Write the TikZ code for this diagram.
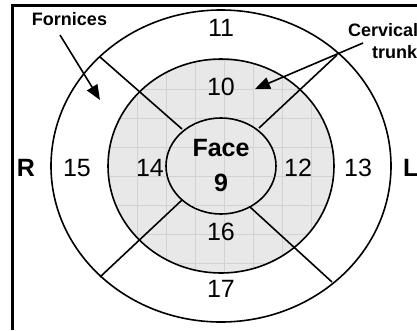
\documentclass[tikz,border=0pt]{standalone}
\usepackage{fontspec}
\setmainfont{Liberation Sans}
\usetikzlibrary{arrows.meta}
\definecolor{ringgray}{HTML}{E8E8E8}
\definecolor{gridgray}{HTML}{D2D2D2}
\begin{document}
\begin{tikzpicture}[x=1pt,y=-1pt,
  ring/.style={line width=1.6pt},
  spoke/.style={line width=1.6pt},
  gridline/.style={gridgray,line width=0.6pt},
  num/.style={inner sep=0pt,font=\fontsize{25}{28}\selectfont},
  bnum/.style={inner sep=0pt,font=\fontsize{25}{28}\selectfont\bfseries},
  callout/.style={inner sep=0pt,anchor=west,font=\fontsize{18}{21}\selectfont\bfseries},
  pointer/.style={line width=1.6pt,-{Triangle[length=15pt,width=12pt]}},
  frame/.style={line width=3pt,line join=miter}]
\useasboundingbox (0,0) rectangle (417,330);
\clip (0,0) rectangle (417,330);
\fill[white] (0,0) rectangle (417,330);
\coordinate (c) at (221,166);
% outer ring
\draw[ring,fill=white] (c) ellipse [x radius=170, y radius=156];
% gray middle ring with faint grid
\begin{scope}
  \clip (c) ellipse [x radius=113, y radius=107];
  \fill[ringgray] (c) ellipse [x radius=113, y radius=107];
  \foreach \yy in {60,89,118,147,176,205,234,263}
    \draw[gridline] (100,\yy) -- (340,\yy);
  \foreach \xx in {108,137,166,195,224,253,282,311}
    \draw[gridline] (\xx,50) -- (\xx,280);
\end{scope}
\draw[ring] (c) ellipse [x radius=113, y radius=107];
% spokes
\coordinate (ulI) at (182,129); \coordinate (ulO) at (100,57);
\coordinate (urI) at (259,128); \coordinate (urO) at (337,55);
\coordinate (llI) at (182,200); \coordinate (llO) at (100,277);
\coordinate (lrI) at (250,207); \coordinate (lrO) at (332,282);
\draw[spoke] (ulI) -- (ulO);
\draw[spoke] (urI) -- (urO);
\draw[spoke] (llI) -- (llO);
\draw[spoke] (lrI) -- (lrO);
% inner circle
\draw[ring,fill=ringgray] (c) ellipse [x radius=55, y radius=48];
\begin{scope}
  \clip (c) ellipse [x radius=54, y radius=47];
  \foreach \yy in {118,147,176,205}
    \draw[gridline] (160,\yy) -- (280,\yy);
  \foreach \xx in {166,195,224,253}
    \draw[gridline] (\xx,110) -- (\xx,220);
\end{scope}
% labels
\node[bnum] (face) at (221,148) {Face};
\node[bnum] (nine) at (221,182.5) {9};
\node[num] (n11) at (221,28) {11};
\node[num] (n10) at (221,87) {10};
\node[num] (n16) at (221,232) {16};
\node[num] (n17) at (221,289) {17};
\node[num] (n14) at (150,168) {14};
\node[num] (n15) at (77,168) {15};
\node[num] (n12) at (298,168) {12};
\node[num] (n13) at (358,168) {13};
\node[bnum] (R) at (26,168) {R};
\node[bnum,anchor=west] (L) at (403,168) {L};
\node[callout,anchor=center] (forn) at (69.5,19) {Fornices};
\node[callout] (cerv) at (348,30) {Cervical};
\node[callout] (trunk) at (372,52) {trunk};
% pointers
\coordinate (fs) at (60,35); \coordinate (ft) at (100,100);
\coordinate (cs) at (363,43); \coordinate (ct) at (255,89);
\draw[pointer] (fs) -- (ft);
\draw[pointer] (cs) -- (ct);
% frame
\draw[frame] (12,330) -- (12,5) -- (417,5);
\end{tikzpicture}
\end{document}
